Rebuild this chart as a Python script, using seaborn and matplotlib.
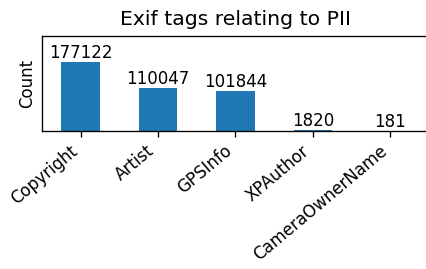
import pandas as pd
import matplotlib
matplotlib.use("Agg")
import matplotlib.pyplot as plt
import seaborn as sns

tags = ["Copyright", "Artist", "GPSInfo", "XPAuthor", "CameraOwnerName"]
counts = [177122, 110047, 101844, 1820, 181]

df = pd.DataFrame({"tag": tags, "count": counts})

# reference looks like a downscaled higher-dpi render, so scale text up a bit
s = 1.2
plt.rcParams.update({
    "font.size": 10 * s,
    "axes.linewidth": 0.8 * s,
    "xtick.major.size": 3.5 * s,
    "xtick.major.width": 0.8 * s,
})

fig = plt.figure(figsize=(4.27, 2.69), dpi=100)
ax = fig.add_axes([42 / 427, 1 - 131 / 269, 387 / 427, 95 / 269])

sns.barplot(data=df, x="tag", y="count", color="#1f77b4", saturation=1,
            width=0.5, ax=ax)
ax.bar_label(ax.containers[0], fontsize=10 * s)

ax.set_xlim(-0.5, 4.5)
ax.set_ylim(0, 244000)
ax.set_yticks([])
ax.set_xlabel("")
ax.set_ylabel("Count")
ax.set_title("Exif tags relating to PII", fontsize=12 * s * 1.02, pad=8)
plt.setp(ax.get_xticklabels(), rotation=40, ha="right")

fig.savefig("out.png", dpi=100)
